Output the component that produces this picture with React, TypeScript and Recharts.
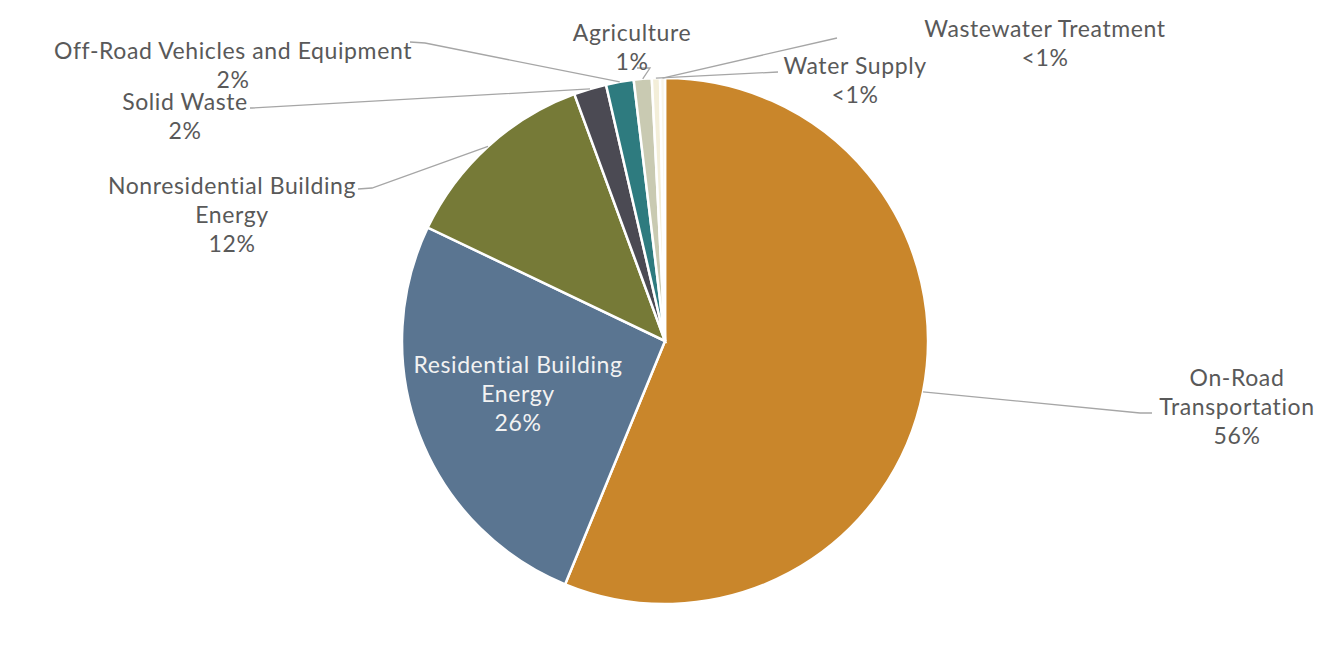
import React from 'react';
import { Cell, Pie, PieChart } from 'recharts';

const sectors = [
  'On-Road Transportation',
  'Residential Building Energy',
  'Nonresidential Building Energy',
  'Solid Waste',
  'Off-Road Vehicles and Equipment',
  'Agriculture',
  'Water Supply',
  'Wastewater Treatment',
];
const emissions = [56.2, 25.9, 12.3, 2.0, 1.7, 1.1, 0.5, 0.3];
const shareLabels = ['56%', '26%', '12%', '2%', '2%', '1%', '<1%', '<1%'];
const colors = ['#C9862B', '#5A7591', '#767A37', '#4B4A53', '#2E7B7F', '#C9CAB2', '#F3EED9', '#F8F5EA'];

// where Excel put each data label (svg coords), with the leader line's elbow/end
const labelLayout = [
  { lines: ['On-Road', 'Transportation'], x: 1230, y: 370, pts: [[1133, 406], [1145, 406]] },
  { lines: ['Residential Building', 'Energy'], x: 511, y: 357, pts: null, inside: true },
  { lines: ['Nonresidential Building', 'Energy'], x: 225, y: 178, pts: [[365, 181], [351, 182]] },
  { lines: ['Solid Waste'], x: 178, y: 94, pts: [[245, 101], [243, 101]] },
  { lines: ['Off-Road Vehicles and Equipment'], x: 226, y: 43, pts: [[418, 36], [403, 35]] },
  { lines: ['Agriculture'], x: 625, y: 25, pts: [[643, 61], [630, 61]] },
  { lines: ['Water Supply'], x: 848, y: 58, pts: [[771, 65]] },
  { lines: ['Wastewater Treatment'], x: 1038, y: 21, pts: [[830, 31]] },
];

const data = sectors.map((name, i) => ({ name, value: emissions[i], share: shareLabels[i] }));

const RAD = Math.PI / 180;
const LINE_H = 29;

const renderLabel = (props: any) => {
  const { cx, cy, midAngle, outerRadius, index } = props;
  const lay = labelLayout[index];
  const rows = [...lay.lines, data[index].share];
  const sx = cx + outerRadius * Math.cos(-midAngle * RAD);
  const sy = cy + outerRadius * Math.sin(-midAngle * RAD);
  const points = lay.pts ? [[sx, sy], ...lay.pts].map((p) => p.join(',')).join(' ') : '';
  return (
    <g key={`lbl-${index}`}>
      {lay.pts && <polyline points={points} fill="none" stroke="#A6A6A6" strokeWidth={1.3} />}
      <text
        x={lay.x}
        y={lay.y}
        textAnchor="middle"
        fontFamily="Lato, sans-serif"
        fontSize={23}
        letterSpacing={0.6}
        fill={lay.inside ? '#F2F2F2' : '#595959'}
      >
        {rows.map((r, k) => (
          <tspan key={k} x={lay.x} y={lay.y + k * LINE_H} dominantBaseline="central">
            {r}
          </tspan>
        ))}
      </text>
    </g>
  );
};

export default function App() {
  return (
    <div
      style={{
        width: 1309,
        height: 670,
        margin: '-2px 0 0 -2px',
        border: '1px solid #D4D4D4',
        borderBottom: 'none',
        background: '#fff',
      }}
    >
      <PieChart width={1309} height={670} margin={{ top: 0, right: 0, bottom: 0, left: 0 }}>
        <Pie
          data={data}
          dataKey="value"
          nameKey="name"
          cx={658}
          cy={334}
          outerRadius={263}
          startAngle={90}
          endAngle={-270}
          stroke="#FFFFFF"
          strokeWidth={2.5}
          label={renderLabel}
          labelLine={false}
          isAnimationActive={false}
        >
          {data.map((d, i) => (
            <Cell key={d.name} fill={colors[i]} />
          ))}
        </Pie>
      </PieChart>
    </div>
  );
}
